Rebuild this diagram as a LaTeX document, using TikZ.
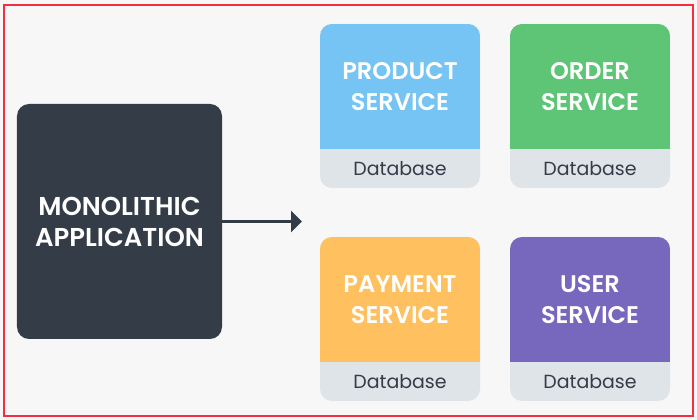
\documentclass[tikz,border=0pt]{standalone}
\usepackage{fontspec}
\setmainfont{Poppins}
\newfontfamily\titlefont{Poppins SemiBold}
\usetikzlibrary{arrows.meta}

\definecolor{darkslate}{HTML}{333C47}
\definecolor{dbgrey}{HTML}{DFE4E8}
\definecolor{pagegrey}{HTML}{F7F7F7}
\definecolor{framered}{HTML}{F0303F}
\definecolor{productblue}{HTML}{75C4F3}
\definecolor{ordergreen}{HTML}{5EC476}
\definecolor{paymentorange}{HTML}{FFC05F}
\definecolor{userpurple}{HTML}{7868BD}

\begin{document}
\begin{tikzpicture}
            \tikzstyle{monolith}=[rectangle,rounded corners=0.24cm,fill=darkslate,minimum width=4.1cm,minimum height=4.7cm,inner sep=0pt]
            \tikzstyle{card}=[rectangle,rounded corners=0.24cm,fill=dbgrey,minimum width=3.2cm,minimum height=3.28cm,inner sep=0pt]
            \tikzstyle{title}=[text=white,align=center,font=\fontsize{13.7}{17.6}\selectfont\titlefont]
            \tikzstyle{bigtitle}=[title,font=\fontsize{14.7}{17.6}\selectfont\titlefont]
            \tikzstyle{dblabel}=[text=darkslate,font=\fontsize{10.8}{14}\selectfont]

                \fill[pagegrey] (0,0) rectangle (13.94,8.4);
                \draw[framered,line width=0.05cm] (0.08,0.08) rectangle (13.86,8.3);
                \useasboundingbox (0,0) rectangle (13.94,8.4);

                \node[monolith] (mono) at (2.39,3.97){};
                \node[bigtitle] (mono-text) at (mono.center){MONOLITHIC\\APPLICATION};
                \coordinate (arrow-end) at (6.04,3.97);
                \draw[darkslate,line width=0.06cm,-{Triangle[length=0.22cm,width=0.42cm]}] (mono.east) -- (arrow-end);

                \foreach \name/\x/\y/\col/\first in {product/8/6.28/productblue/PRODUCT, order/11.8/6.28/ordergreen/ORDER, payment/8/2.02/paymentorange/PAYMENT, user/11.8/2.02/userpurple/USER}{
                    \node[card,path picture={\fill[\col,sharp corners] (path picture bounding box.north west) rectangle ([yshift=0.78cm]path picture bounding box.south east);}] (\name) at (\x,\y){};
                    \node[title] (\name-text) at ([yshift=0.38cm]\name.center){\first\\SERVICE};
                    \node[dblabel] (\name-db) at ([yshift=0.39cm]\name.south){Database};
                }
        \end{tikzpicture}
\end{document}
